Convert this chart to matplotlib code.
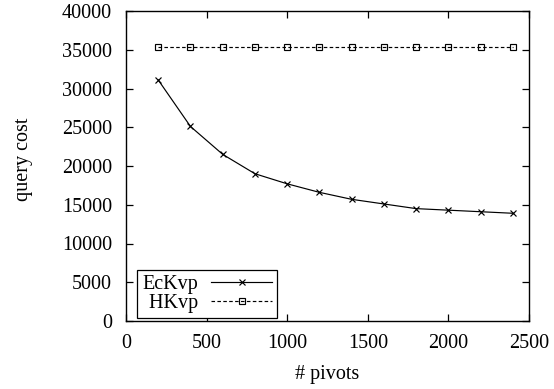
import matplotlib
matplotlib.use("Agg")
import matplotlib.pyplot as plt

pivots = [200, 400, 600, 800, 1000, 1200, 1400, 1600, 1800, 2000, 2200, 2400]
eckvp = [31100, 25100, 21500, 19000, 17700, 16600, 15700, 15100, 14500, 14300, 14100, 13900]
hkvp = [35400] * 12

plt.rcParams['font.family'] = ['Liberation Serif', 'DejaVu Serif']
FS = 14.5
plt.rcParams['font.size'] = FS

fig = plt.figure(figsize=(5.54, 3.89), dpi=100)
ax = fig.add_axes([126/554, 1 - 321/389, (529-126)/554, (321-11)/389])

ax.plot(pivots, eckvp, color='black', lw=0.85, marker='x', ms=4.5, mew=0.85, label='EcKvp')
ax.plot(pivots, hkvp, color='black', lw=0.85, ls=(0, (3, 2)), marker='s', ms=4, mew=0.85,
        mfc='none', label=' HKvp')

ax.set_xlim(0, 2500)
ax.set_ylim(0, 40000)
ax.set_xticks(range(0, 2501, 500))
ax.set_yticks(range(0, 40001, 5000))
ax.tick_params(direction='in', top=True, right=True, length=5, width=0.9, labelsize=FS)
ax.tick_params(axis='y', pad=10)
ax.tick_params(axis='x', pad=9)
for s in ax.spines.values():
    s.set_linewidth(1.0)

ax.set_xlabel('# pivots', fontsize=FS, labelpad=9)
ax.set_ylabel('query cost', fontsize=FS)
ax.yaxis.set_label_coords(-0.232, 0.52)

leg = ax.legend(loc='lower left', bbox_to_anchor=(137/554, 1 - 318/389),
                bbox_transform=fig.transFigure, borderaxespad=0,
                markerfirst=False, fancybox=False, edgecolor='black',
                framealpha=1, handlelength=3.05, handletextpad=0.65,
                borderpad=0.25, labelspacing=0.0, fontsize=FS)
leg.get_frame().set_linewidth(0.9)

fig.savefig('out.png', dpi=100)
